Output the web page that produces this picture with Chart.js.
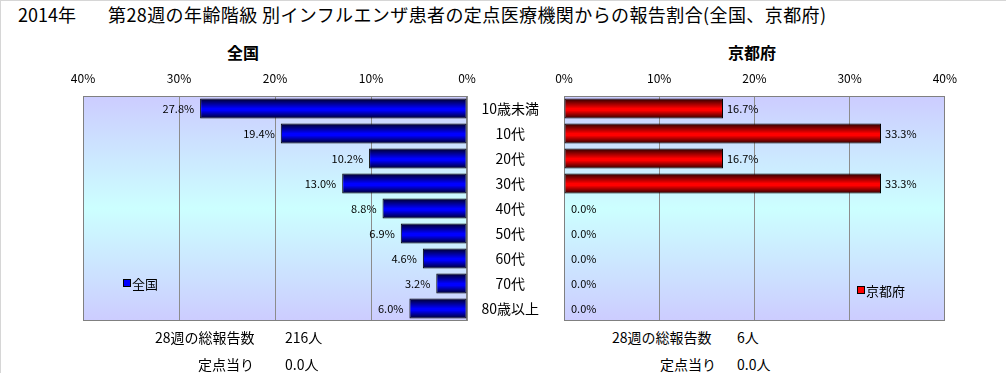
<!DOCTYPE html>
<html lang="ja">
<head>
<meta charset="utf-8">
<script src="https://cdn.jsdelivr.net/npm/chart.js@4.4.1/dist/chart.umd.min.js"></script>
<style>
  html, body { margin: 0; padding: 0; background: #fff; }
  body { width: 1006px; height: 373px; position: relative; overflow: hidden;
         font-family: "Noto Sans CJK JP", "Noto Sans", sans-serif; color: #000; }
  .frame { position: absolute; left: 0; top: 0; width: 1006px; height: 373px;
           border-left: 1px solid #d6d6d6; border-top: 1px solid #d6d6d6; box-sizing: border-box; }
  .t { position: absolute; white-space: nowrap; line-height: 1; }
  canvas { position: absolute; }
  .lg { position: absolute; font-size: 13px; line-height: 1; white-space: nowrap; }
  .lg i { display: inline-block; width: 6px; height: 6px; border: 1px solid #000; margin-right: 1px; vertical-align: 2px; }
</style>
</head>
<body>
<div class="frame"></div>
<div class="t" style="left:18px;top:5px;font-size:18px;">2014年</div>
<div class="t" style="left:108px;top:5px;font-size:18px;letter-spacing:0.4px;">第28週の年齢階級 別インフルエンザ患者の定点医療機関からの報告割合(全国、京都府)</div>

<div class="t" style="left:243px;top:44px;font-size:16px;font-weight:bold;transform:translateX(-50%);">全国</div>
<div class="t" style="left:752px;top:44px;font-size:16px;font-weight:bold;transform:translateX(-50%);">京都府</div>

<canvas id="chart-zenkoku" width="480" height="252" style="left:0;top:70px;"></canvas>
<canvas id="chart-kyoto" width="500" height="252" style="left:467px;top:70px;"></canvas>

<div class="lg" style="left:123px;top:277px;"><i style="background:#0000ff"></i>全国</div>
<div class="lg" style="left:857px;top:284px;"><i style="background:#ff0000"></i>京都府</div>

<div class="t" style="left:155px;top:330px;font-size:14px;">28週の総報告数</div>
<div class="t" style="left:285px;top:330px;font-size:14px;">216人</div>
<div class="t" style="left:198px;top:357px;font-size:14px;">定点当り</div>
<div class="t" style="left:285px;top:357px;font-size:14px;">0.0人</div>

<div class="t" style="left:612px;top:330px;font-size:14px;">28週の総報告数</div>
<div class="t" style="left:737px;top:330px;font-size:14px;">6人</div>
<div class="t" style="left:660px;top:357px;font-size:14px;">定点当り</div>
<div class="t" style="left:737px;top:357px;font-size:14px;">0.0人</div>

<script>
// 年齢階級
const categories = ['10歳未満', '10代', '20代', '30代', '40代', '50代', '60代', '70代', '80歳以上'];
// 報告割合(%)
const zenkokuValues = [27.8, 19.4, 10.2, 13.0, 8.8, 6.9, 4.6, 3.2, 6.0];
const kyotoValues = [16.7, 33.3, 16.7, 33.3, 0.0, 0.0, 0.0, 0.0, 0.0];
const tickValues = [0, 10, 20, 30, 40];

const FONT = '"Noto Sans CJK JP", "Noto Sans", sans-serif';

// 棒の立体風グラデーション
function barGradient(dark, bright) {
  return function (ctx) {
    const chart = ctx.chart;
    if (!chart.chartArea || !chart.scales.y) return bright;
    const y = chart.scales.y;
    const row = chart.chartArea.height / categories.length;
    const yc = y.getPixelForValue(ctx.dataIndex);
    const half = row * 0.8 / 2;
    const g = chart.ctx.createLinearGradient(0, yc - half, 0, yc + half);
    g.addColorStop(0, dark);
    g.addColorStop(0.5, bright);
    g.addColorStop(0.6, bright);
    g.addColorStop(1, dark);
    return g;
  };
}

// プロット領域の背景と枠
const plotBg = {
  id: 'plotBg',
  beforeDraw(chart) {
    const a = chart.chartArea;
    const c = chart.ctx;
    const g = c.createLinearGradient(0, a.top, 0, a.bottom);
    g.addColorStop(0, '#ccccff');
    g.addColorStop(0.5, '#ccffff');
    g.addColorStop(1, '#ccccff');
    c.save();
    c.fillStyle = g;
    c.fillRect(a.left, a.top, a.right - a.left, a.bottom - a.top);
    c.restore();
  },
  beforeDatasetsDraw(chart) {
    const a = chart.chartArea;
    const c = chart.ctx;
    c.save();
    c.strokeStyle = '#808080';
    c.lineWidth = 1;
    c.strokeRect(Math.round(a.left) + 0.5, Math.round(a.top) + 0.5,
      Math.round(a.right - a.left) - 1, Math.round(a.bottom - a.top) - 1);
    c.restore();
  }
};

// 値ラベル
const valueLabels = {
  id: 'valueLabels',
  afterDatasetsDraw(chart, args, opts) {
    const c = chart.ctx;
    const meta = chart.getDatasetMeta(0);
    const data = chart.data.datasets[0].data;
    c.save();
    c.font = '11px ' + FONT;
    c.fillStyle = '#000';
    c.textBaseline = 'middle';
    meta.data.forEach((bar, i) => {
      const txt = data[i].toFixed(1) + '%';
      if (opts.side === 'left') {
        c.textAlign = 'right';
        c.fillText(txt, bar.x - 6, bar.y);
      } else {
        c.textAlign = 'left';
        c.fillText(txt, bar.x + (data[i] === 0 ? 7 : 4), bar.y);
      }
    });
    c.restore();
  }
};

function xScale(reverse) {
  return {
    position: 'top',
    reverse: reverse,
    min: 0,
    max: 40,
    afterBuildTicks: s => { s.ticks = tickValues.map(v => ({ value: v })); },
    afterFit: s => { s.height = 26; },
    ticks: {
      callback: v => v + '%',
      font: { family: FONT, size: 12 },
      color: '#000',
      padding: 10,
      maxRotation: 0
    },
    grid: { color: '#8c8c8c', lineWidth: 1, drawTicks: false },
    border: { display: false }
  };
}

new Chart(document.getElementById('chart-zenkoku'), {
  type: 'bar',
  data: {
    labels: categories,
    datasets: [{
      label: '全国',
      data: zenkokuValues,
      backgroundColor: barGradient('#000028', '#0000ff'),
      borderColor: '#000',
      borderWidth: 1,
      borderSkipped: false,
      barPercentage: 0.8,
      categoryPercentage: 1.0
    }]
  },
  options: {
    indexAxis: 'y',
    responsive: false,
    animation: false,
    layout: { padding: { left: 83, right: 13, top: 0, bottom: 1 } },
    plugins: { legend: { display: false }, tooltip: { enabled: false }, valueLabels: { side: 'left' } },
    scales: {
      x: xScale(true),
      y: { display: false, grid: { display: false } }
    }
  },
  plugins: [plotBg, valueLabels]
});

new Chart(document.getElementById('chart-kyoto'), {
  type: 'bar',
  data: {
    labels: categories,
    datasets: [{
      label: '京都府',
      data: kyotoValues,
      backgroundColor: barGradient('#280000', '#ff0000'),
      borderColor: '#000',
      borderWidth: 1,
      borderSkipped: false,
      barPercentage: 0.8,
      categoryPercentage: 1.0
    }]
  },
  options: {
    indexAxis: 'y',
    responsive: false,
    animation: false,
    layout: { padding: { left: 0, right: 20, top: 0, bottom: 1 } },
    plugins: { legend: { display: false }, tooltip: { enabled: false }, valueLabels: { side: 'right' } },
    scales: {
      x: xScale(false),
      y: {
        position: 'left',
        // 軸ラベル欄の幅を固定し、上下の余白は取らない
        afterFit: s => { s.width = 97; s.paddingTop = 0; s.paddingBottom = 0; },
        ticks: {
          crossAlign: 'center',
          padding: 25,
          font: { family: FONT, size: 14 },
          color: '#000'
        },
        grid: { display: false, drawTicks: false },
        border: { display: false }
      }
    }
  },
  plugins: [plotBg, valueLabels]
});
</script>
</body>
</html>
